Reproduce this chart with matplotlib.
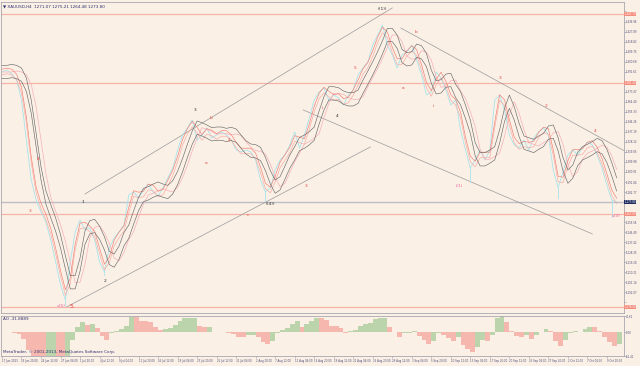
import numpy as np
import pandas as pd
import matplotlib
matplotlib.use("Agg")
import matplotlib.pyplot as plt

# XAUUSD H4 closes, one value every 4 bars
closes = [
    1391.3, 1393.1, 1389.5, 1384.1, 1366.0, 1329.8, 1293.7, 1275.6, 1264.8, 1255.7,
    1239.4, 1219.6, 1198.8, 1185.2, 1219.6, 1246.7, 1257.5, 1248.5, 1250.3, 1239.4,
    1219.6, 1210.5, 1232.2, 1241.3, 1246.7, 1253.0, 1280.1, 1282.8, 1277.4, 1284.6,
    1290.1, 1282.8, 1279.2, 1286.4, 1295.5, 1304.5, 1320.8, 1334.4, 1340.7, 1347.9,
    1329.8, 1334.4, 1340.7, 1331.6, 1334.4, 1337.1, 1334.4, 1329.8, 1320.8, 1319.0,
    1320.8, 1319.0, 1311.8, 1293.7, 1282.8, 1286.4, 1302.7, 1311.8, 1316.3, 1325.3,
    1337.1, 1322.6, 1334.4, 1349.7, 1366.0, 1373.2, 1376.8, 1366.0, 1370.5, 1367.8,
    1361.5, 1370.5, 1375.0, 1388.6, 1394.9, 1400.4, 1415.7, 1424.8, 1433.8, 1415.7,
    1406.7, 1394.9, 1406.7, 1409.4, 1415.7, 1402.2, 1388.6, 1370.5, 1373.2, 1391.3,
    1385.9, 1375.0, 1361.5, 1366.0, 1338.9, 1320.8, 1304.5, 1311.8, 1320.8, 1311.8,
    1320.8, 1366.0, 1370.5, 1357.0, 1334.4, 1325.3, 1322.6, 1329.8, 1320.8, 1331.6,
    1337.1, 1340.7, 1334.4, 1302.7, 1286.4, 1300.9, 1316.3, 1320.8, 1316.3, 1322.6,
    1328.0, 1325.3, 1316.3, 1304.5, 1288.8, 1275.6, 1273.8,
]
bars_per_sample = 4

# long lower wicks (sample index, low)
spike_idx = [13, 21, 54, 96, 114, 125]
spike_low = [1180.7, 1207.4, 1275.0, 1292.0, 1277.3, 1260.0]

# horizontal levels and current bid
levels = [1443.7, 1381.4, 1263.0, 1178.9]
bid = 1273.8

# trend lines: bar0, price0, bar1, price1
trend_lines = [
    (68, 1281.0, 320, 1449.2),
    (53, 1178.9, 302, 1323.5),
    (327, 1431.1, 512, 1319.0),
    (247, 1357.0, 484, 1244.9),
]

# wave labels: bar, price, text, colour, size
waves = [
    (49, 1179.5, "v(5)", "#F060A0", 3.2),
    (57, 1179.5, "5", "#F03C3C", 4.5),
    (23, 1265.7, "3", "#E8453C", 3.2),
    (29.5, 1312.7, "4", "#E8453C", 3.2),
    (66.4, 1273.8, "1", "#303030", 3.2),
    (84.4, 1202.4, "2", "#303030", 3.2),
    (158, 1357.0, "3", "#303030", 3.2),
    (171, 1349.7, "b", "#E8453C", 3.2),
    (167, 1309.0, "a", "#E8453C", 3.2),
    (186, 1329.8, "4", "#E8453C", 3.2),
    (201.6, 1262.0, "c", "#E8453C", 3.2),
    (219.7, 1272.0, "((4))", "#303030", 3.2),
    (249, 1288.3, "3", "#E8453C", 3.2),
    (263, 1358.8, "i", "#E8453C", 3.2),
    (274.6, 1351.5, "4", "#303030", 3.2),
    (289.3, 1394.9, "5", "#E8453C", 3.2),
    (312.3, 1448.3, "((1))", "#303030", 3.2),
    (339.3, 1427.5, "b", "#E8453C", 3.2),
    (328.7, 1376.8, "a", "#E8453C", 3.2),
    (353.3, 1360.6, "i", "#E8453C", 3.2),
    (374.6, 1288.3, "i(1)", "#F060A0", 3.2),
    (408.2, 1385.9, "3", "#E8453C", 3.2),
    (445.9, 1360.6, "2", "#E8453C", 3.2),
    (486.1, 1338.0, "4", "#E8453C", 3.2),
    (503.3, 1261.1, "v(3)", "#F060A0", 3.2),
]

date_labels = [
    "17 Jun 2013", "19 Jun 20:00", "24 Jun 12:00", "27 Jun 04:00", "1 Jul 20:00",
    "4 Jul 12:00", "9 Jul 04:00", "11 Jul 20:00", "16 Jul 12:00", "19 Jul 04:00",
    "23 Jul 20:00", "26 Jul 12:00", "31 Jul 04:00", "2 Aug 20:00", "7 Aug 12:00",
    "12 Aug 04:00", "14 Aug 20:00", "19 Aug 12:00", "22 Aug 04:00", "26 Aug 20:00",
    "29 Aug 12:00", "3 Sep 04:00", "5 Sep 20:00", "10 Sep 12:00", "13 Sep 04:00",
    "17 Sep 20:00", "20 Sep 12:00", "25 Sep 04:00", "27 Sep 20:00", "2 Oct 12:00",
    "7 Oct 04:00", "9 Oct 20:00",
]
bars_per_label = 16

BG = "#FAF0E6"
GRID = "#A8A8B0"
TXT = "#50507A"
FS = 1.9

fig = plt.figure(figsize=(6.4, 3.66), dpi=100, facecolor=BG)
ax = fig.add_axes([1 / 640, 53 / 366, 623 / 640, 311 / 366], facecolor=BG)
ax2 = fig.add_axes([1 / 640, 10 / 366, 623 / 640, 40 / 366], facecolor=BG)

c = pd.Series(closes)
x = np.arange(len(c)) * bars_per_sample

# levels
for p in levels:
    ax.axhline(p, color="#F6B4A6", lw=0.9, zorder=1)
ax.axhline(bid, color="#BDBDC6", lw=1.0, zorder=1)

# trend lines
for b0, p0, b1, p1 in trend_lines:
    ax.plot([b0, b1], [p0, p1], color="#9A9A9A", lw=0.5, zorder=2)

# price + averages
fast = c.rolling(2, min_periods=1).mean()
slow = c.rolling(3, min_periods=1).mean().shift(1).bfill()
ax.plot(x, c, color="#A8E4EC", lw=0.6, zorder=3)
for i, lo in zip(spike_idx, spike_low):
    ax.plot([x[i], x[i]], [c[i], lo], color="#A8E4EC", lw=0.6, zorder=3)
ax.plot(x, slow.shift(1).bfill(), color="#F7B0B8", lw=0.5, zorder=3)
ax.plot(x, fast + 2.5, color="#F27C70", lw=0.45, zorder=4)
ax.plot(x, fast - 2.5, color="#F7A8A0", lw=0.45, zorder=4)
ax.plot(x, slow + 6, color="#6A6A6A", lw=0.45, zorder=4)
ax.plot(x, slow - 6, color="#6A6A6A", lw=0.45, zorder=4)

for b, p, t, col, fs in waves:
    ax.text(b, p, t, color=col, fontsize=fs, ha="center", va="center", zorder=6)

ax.set_xlim(-0.8, 510)
ax.set_ylim(1173.4, 1454.6)
ax.set_xticks([])
ax.yaxis.tick_right()
ticks = np.arange(1183.0, 1452.0, 9.07)
ax.set_yticks(ticks)
marked = levels + [bid]
ax.set_yticklabels(["" if min(abs(v - m) for m in marked) < 6 else f"{v:,.2f}"
                    for v in ticks])
ax.tick_params(axis="y", length=1.2, width=0.5, labelsize=FS, colors=GRID,
               labelcolor=TXT, pad=0.3)
for s in ax.spines.values():
    s.set_color(GRID)
    s.set_linewidth(0.6)

for p in levels:
    ax.text(1.001, p, f"{p:,.2f}", transform=ax.get_yaxis_transform(), fontsize=FS,
            color="white", va="center", ha="left",
            bbox=dict(boxstyle="square,pad=0.1", fc="#F58C7C", ec="none"))
ax.text(1.001, bid, f"{bid:,.2f}", transform=ax.get_yaxis_transform(), fontsize=FS,
        color="white", va="center", ha="left",
        bbox=dict(boxstyle="square,pad=0.1", fc="#202C60", ec="none"))

ax.text(0.004, 0.993, "\u25bc XAUUSD,H4  1271.07 1275.21 1264.48 1273.80",
        transform=ax.transAxes, fontsize=3, color="#303070", va="top", ha="left")

# Awesome Oscillator
ao = c - c.rolling(9, min_periods=1).mean()
up = ao.diff().fillna(0) >= 0
cols = np.where(up, "#BCD4AC", "#F6B8AE")
ax2.bar(x, ao, width=bars_per_sample, color=cols, edgecolor="none", align="edge")
ax2.set_xlim(-0.8, 510)
ax2.set_ylim(-62.4, 41.6)
ax2.yaxis.tick_right()
ax2.set_yticks([-62.4, 0, 41.6])
ax2.set_yticklabels(["-62.41", "0.00", "41.61"])
ax2.tick_params(axis="y", length=1.2, width=0.5, labelsize=FS, colors=GRID,
                labelcolor=TXT, pad=0.3)
ax2.set_xticks(np.arange(len(date_labels)) * bars_per_label)
ax2.set_xticklabels(date_labels, ha="left")
ax2.tick_params(axis="x", length=1.5, width=0.5, labelsize=FS, colors=GRID,
                labelcolor=TXT, pad=1)
for s in ax2.spines.values():
    s.set_color(GRID)
    s.set_linewidth(0.6)
ax2.text(0.004, 0.97, f"AO {ao.iloc[-1]:.4f}", transform=ax2.transAxes,
         fontsize=3, color="#303070", va="top", ha="left")
ax2.text(0.004, 0.04, "MetaTrader, \u00a9 2001-2013, MetaQuotes Software Corp.",
         transform=ax2.transAxes, fontsize=3, color="#303070", va="bottom", ha="left")

fig.savefig("out.png", dpi=100, facecolor=BG)
